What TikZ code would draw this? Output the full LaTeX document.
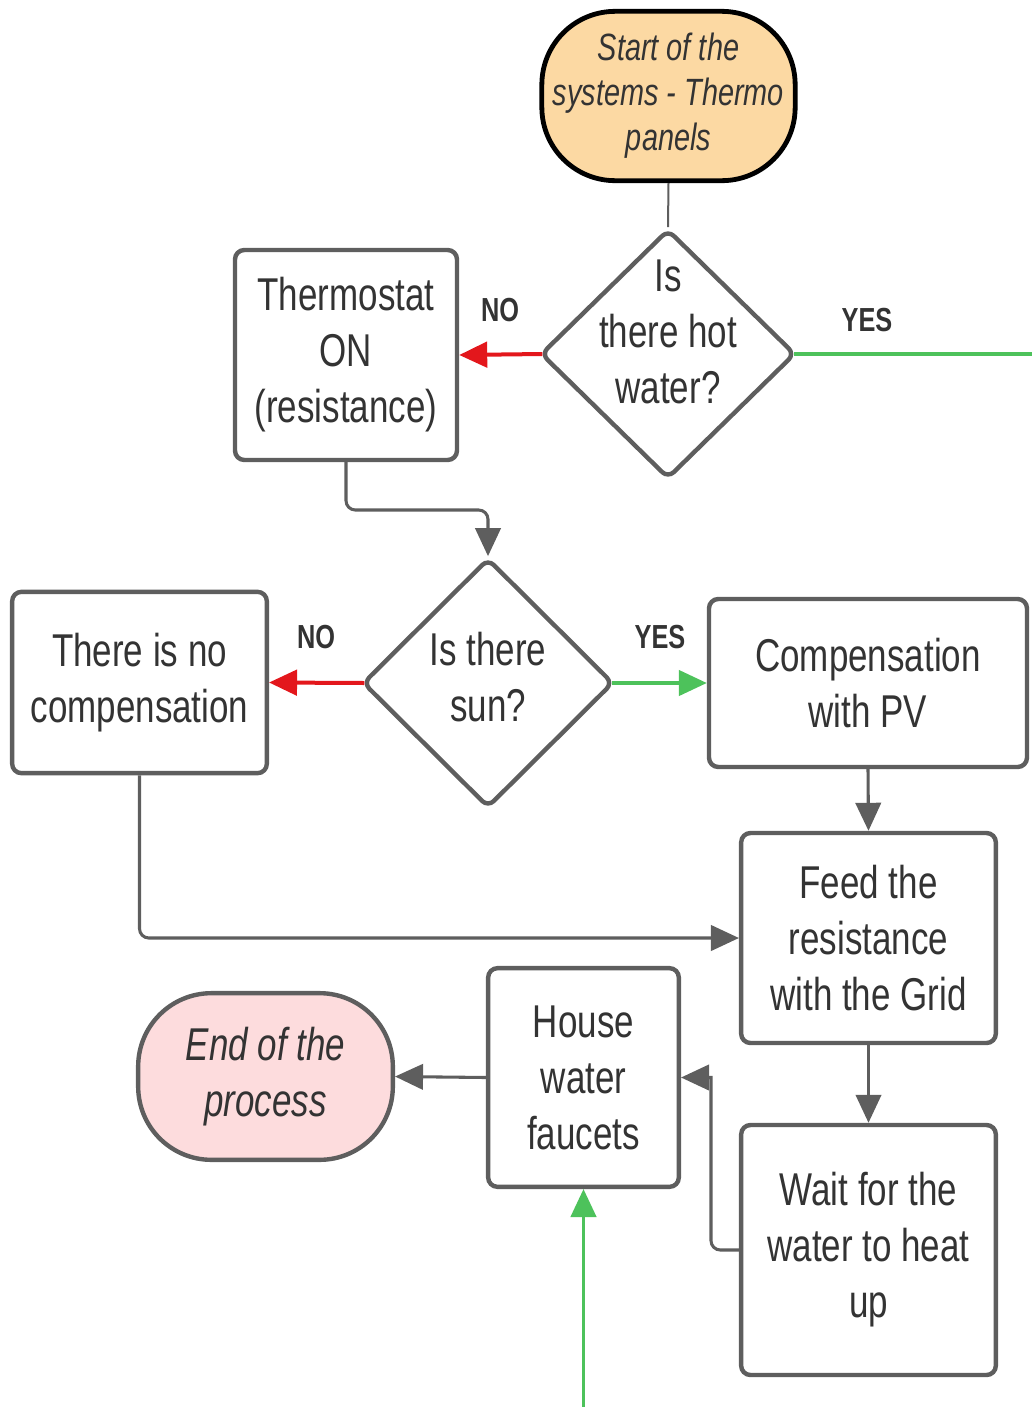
\documentclass[tikz,border=0pt]{standalone}
\usepackage{fontspec}
\setmainfont{Liberation Sans}[FakeStretch=0.76]
\usetikzlibrary{shapes.geometric,arrows.meta}
\definecolor{gc}{HTML}{5E5E5E}
\definecolor{tc}{HTML}{333333}
\definecolor{gn}{HTML}{4DC25B}
\definecolor{rd}{HTML}{E3171C}
\definecolor{orangef}{HTML}{FCD9A3}
\definecolor{pinkf}{HTML}{FDDCDD}
\newcommand\mainf{\fontsize{34.5}{42}\selectfont}
\newcommand\startf{\fontsize{28.5}{33.8}\selectfont\itshape}
\newcommand\labf{\fontsize{25}{30}\selectfont\bfseries}
\begin{document}
\begin{tikzpicture}[x=0.75pt,y=-0.75pt,
 box/.style={draw=gc,line width=3.3pt,rounded corners=7pt,fill=white,align=center,inner sep=0pt,font=\mainf,text=tc},
 dia/.style={diamond,draw=gc,line width=3.3pt,rounded corners=6pt,inner sep=0pt,fill=white},
 term/.style={draw=gc,line width=3.3pt,rounded corners=55pt,align=center,inner sep=0pt,text=tc},
 txt/.style={align=center,inner sep=0pt,font=\mainf,text=tc},
 lab/.style={font=\labf,text=tc,inner sep=0pt},
 tip/.style={-{Triangle[length=21pt,width=19pt]}},
 conn/.style={draw=gc,line width=2.3pt,rounded corners=7pt,tip},
 yesline/.style={draw=gn,line width=2.6pt},
 noline/.style={draw=rd,line width=3pt}]
\useasboundingbox (0,0) rectangle (1032,1407);
% nodes
\node[term,draw=black,line width=3.6pt,fill=orangef,minimum width=190pt,minimum height=127pt,font=\startf] (start) at (668.5,96) {Start of the\\systems - Thermo\\panels};
\node[dia,minimum width=191pt,minimum height=187pt] (d1) at (668,354) {};
\node[txt] (d1t) at (668,332) {Is\\there hot\\water?};
\node[box,minimum width=166.5pt,minimum height=157.5pt] (th) at (346,355) {Thermostat\\ON\\(resistance)};
\node[dia,minimum width=188pt,minimum height=187pt] (d2) at (488,683) {};
\node[txt] (d2t) at (488,677) {Is there\\sun?};
\node[box,minimum width=191pt,minimum height=136pt] (nc) at (139.5,682.5) {There is no\\compensation};
\node[box,minimum width=238.5pt,minimum height=126pt] (pv) at (868,683) {Compensation\\with PV};
\node[box,minimum width=191pt,minimum height=157.5pt] (grid) at (868.5,938) {Feed the\\resistance\\with the Grid};
\node[box,minimum width=191pt,minimum height=187.5pt] (wait) at (868.5,1250) {Wait for the\\water to heat\\up};
\node[box,minimum width=143pt,minimum height=164pt] (house) at (583.5,1077.5) {House\\water\\faucets};
\node[term,fill=pinkf,minimum width=191pt,minimum height=125pt,font=\mainf\itshape] (end) at (265.5,1076.5) {End of the\\process};
% labels
\node[lab] (no1) at (500,310) {NO};
\node[lab] (yes1) at (867,320) {YES};
\node[lab] (no2) at (316,637) {NO};
\node[lab] (yes2) at (660,637) {YES};
% free ends
\coordinate (gtop) at (1032,354);
\coordinate (gbot) at (583.5,1407);
\coordinate (k1) at (346,510);
\coordinate (k2) at (139.5,938);
\coordinate (k3) at (711,1250);
% connectors
\draw[draw=gc,line width=1.5pt] (start.south) -- (d1.north);
\draw[noline,tip] ([xshift=3pt]d1.west) -- (th.east);
\draw[yesline] ([xshift=-3pt]d1.east) -- (gtop);
\draw[conn] (th.south) -- (k1) -| (d2.north);
\draw[noline,tip] ([xshift=3pt]d2.west) -- (nc.east);
\draw[yesline,tip] ([xshift=-3pt]d2.east) -- (pv.west);
\draw[conn] (pv.south) -- (grid.north);
\draw[conn] (nc.south) -- (k2) -- (grid.west);
\draw[conn] (grid.south) -- (wait.north);
\draw[conn] (wait.west) -- (k3) [sharp corners] |- (house.east);
\draw[conn] (house.west) -- (end.east);
\draw[yesline,tip] (gbot) -- (house.south);
\end{tikzpicture}
\end{document}
